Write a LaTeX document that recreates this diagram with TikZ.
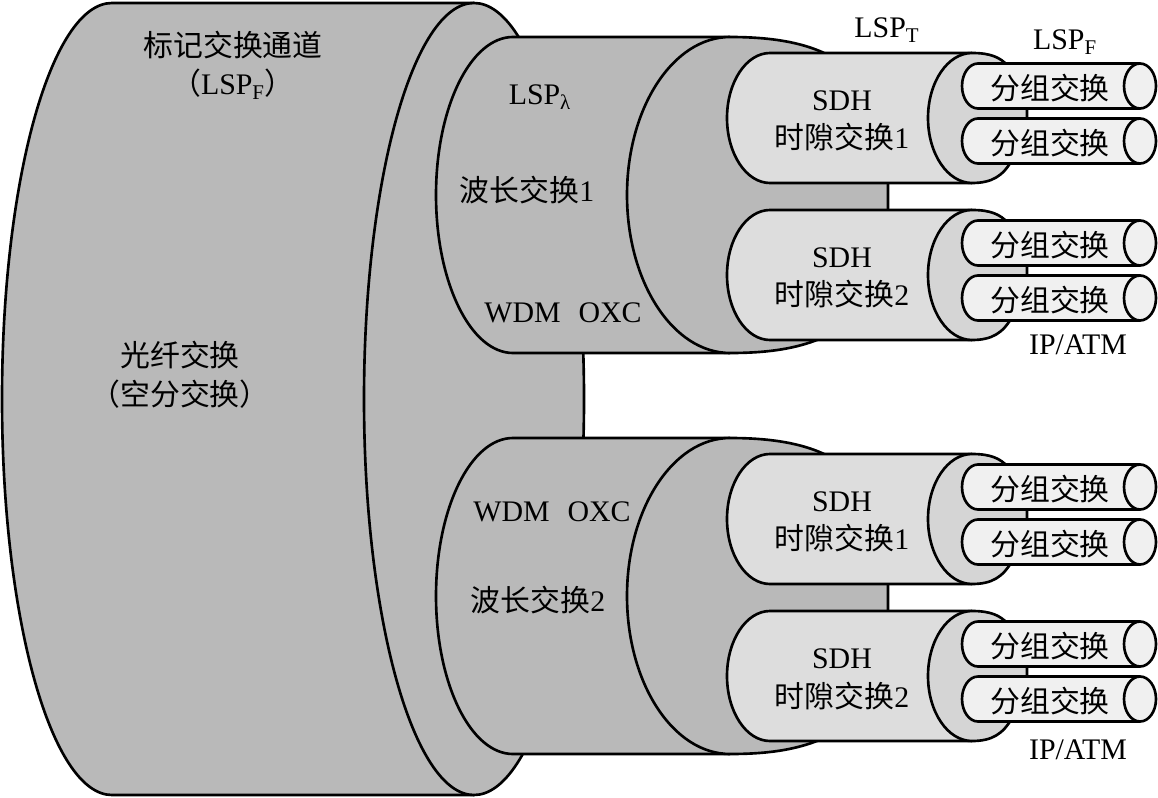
\documentclass[tikz,border=0pt]{standalone}
\usepackage{fontspec}
\setmainfont{Liberation Serif}
\newfontfamily\cjk{Noto Sans CJK SC}
\tikzset{
  fiber/.style={
    draw,
    line width=1.5pt,
    fill=gray!55
  },
  sdhbody/.style={
    draw,
    line width=1.5pt,
    fill=gray!27
  },
  sdhface/.style={
    draw,
    line width=1.5pt,
    fill=gray!33
  },
  pkt/.style={
    draw,
    line width=1.5pt,
    fill=gray!12
  },
  lbl/.style={
    inner sep=0pt,
    align=center,
    font=\fontsize{17}{22}\selectfont
  }
}

\begin{document}
\begin{tikzpicture}[x=0.02cm, y=-0.02cm]
  \useasboundingbox (0,0) rectangle (1158,797);

  % fibre switching cylinder
  \filldraw[fiber] (474,3) -- (112,3) arc[start angle=270, end angle=90, x radius=110, y radius=396] -- (474,795);
  \filldraw[fiber] (474,399) ellipse[x radius=110, y radius=396];

  % two WDM cylinders, each with two SDH cylinders and four packet tubes
  \foreach \o in {0,401} {
    \filldraw[fiber] (730,37+\o) -- (513,37+\o) arc[start angle=270, end angle=90, x radius=77, y radius=158] -- (730,353+\o);
    \filldraw[fiber] (730,37+\o) arc[start angle=270, end angle=90, x radius=103, y radius=158]
      .. controls (775,353+\o) and (808,347+\o) .. (838,330+\o) -- (888,330+\o) -- (888,62+\o) -- (840,62+\o)
      .. controls (815,45+\o) and (780,37+\o) .. cycle;
    \foreach \s/\n in {118/1,275/2} {
      \filldraw[sdhbody] (972,\o+\s-65) -- (770,\o+\s-65) arc[start angle=270, end angle=90, x radius=43, y radius=65] -- (972,\o+\s+65);
      \filldraw[sdhface] (972,\o+\s-65) arc[start angle=270, end angle=90, x radius=44, y radius=65]
        .. controls (992,\o+\s+65) and (1003,\o+\s+58) .. (1012,\o+\s+42) -- (1027,\o+\s+42) -- (1027,\o+\s-52) -- (1008,\o+\s-52)
        .. controls (1000,\o+\s-61) and (990,\o+\s-65) .. cycle;
      \node[lbl] (sdh-\o-\n) at (842,\o+\s+3) {SDH\\{\cjk 时隙交换}\n};
      \foreach \p [count=\k] in {-32,23} {
        \filldraw[pkt] (1140,\o+\s+\p-22.5) -- (978,\o+\s+\p-22.5) arc[start angle=270, end angle=90, x radius=16, y radius=22.5] -- (1140,\o+\s+\p+22.5);
        \filldraw[pkt] (1140,\o+\s+\p) ellipse[x radius=16, y radius=22.5];
        \node[lbl] (pkt-\o-\n-\k) at (1050,\o+\s+\p+2) {\cjk 分组交换};
      }
    }
  }

  \node[lbl] (mark) at (233,65) {{\cjk 标记交换通道}\\{\cjk （}LSP\textsubscript{F}{\cjk ）}};
  \node[lbl] (space) at (180,375) {{\cjk 光纤交换}\\{\cjk （空分交换）}};
  \node[lbl] (lspl) at (540,97) {LSP\textsubscript{λ}};
  \node[lbl] (wave1) at (527,190) {{\cjk 波长交换}1};
  \node[lbl] (oxc1) at (563,313) {WDM\hspace{0.6em}OXC};
  \node[lbl] (oxc2) at (552,512) {WDM\hspace{0.6em}OXC};
  \node[lbl] (wave2) at (538,600) {{\cjk 波长交换}2};
  \node[lbl] (lspt) at (887,30) {LSP\textsubscript{T}};
  \node[lbl] (lspf) at (1065,42) {LSP\textsubscript{F}};
  \node[lbl] (ipatm1) at (1078,345) {IP/ATM};
  \node[lbl] (ipatm2) at (1078,750) {IP/ATM};
\end{tikzpicture}
\end{document}
